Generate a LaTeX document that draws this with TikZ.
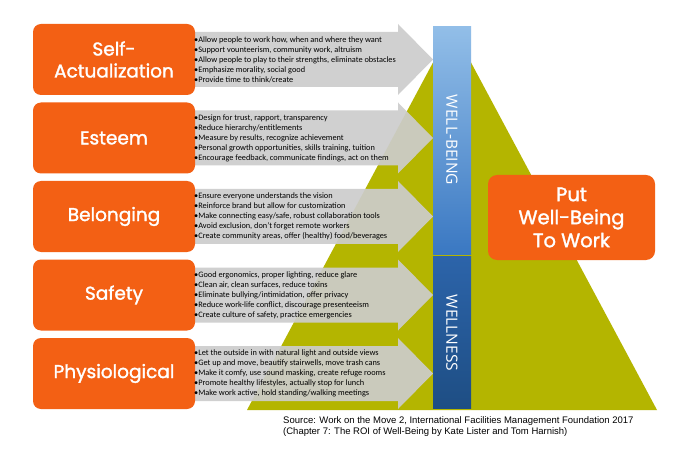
\documentclass[tikz,border=0pt]{standalone}
\usepackage{fontspec}
\setmainfont{Carlito}
\newfontfamily\popp{Poppins}[FakeBold=1.6]
\newfontfamily\opensans{Open Sans}
\newfontfamily\arialf{Liberation Sans}
\definecolor{orangeb}{RGB}{243,96,20}
\definecolor{oliveb}{RGB}{180,181,0}
\definecolor{grayarr}{RGB}{204,204,204}
\definecolor{blueA}{RGB}{146,190,232}
\definecolor{blueB}{RGB}{58,120,194}
\definecolor{blueC}{RGB}{44,100,170}
\definecolor{blueD}{RGB}{30,78,132}
\tikzset{
  levelbox/.style={fill=orangeb, rounded corners=8pt, minimum width=162, minimum height=71,
    text=white, align=center, font=\popp\fontsize{18.5}{22}\selectfont, inner sep=0pt},
  bullets/.style={anchor=west, align=left, font=\fontsize{8.3}{10}\selectfont, inner sep=0pt, text=black},
  grayarrow/.style={fill=grayarr, opacity=0.92},
  bartext/.style={rotate=-90, text=white, font=\opensans\fontsize{15.5}{15}\selectfont},
}
\begin{document}
\begin{tikzpicture}[x=1pt,y=-1pt]
\useasboundingbox[fill=white] (0,0) rectangle (690,454);
% pyramid
\fill[oliveb] (452,27) -- (657,410) -- (247,410) -- cycle;
% arrows
\foreach \T in {24,102.5,181,259.5,338}{
  \fill[grayarrow] (188,\T+8) -- (398,\T+8) -- (398,\T) -- (433,\T+35.5) -- (398,\T+71) -- (398,\T+63) -- (188,\T+63) -- cycle;
}
% boxes
\node[levelbox] (self) at (114,59.5) {Self-\\Actualization};
\node[levelbox] (esteem) at (114,138) {Esteem};
\node[levelbox] (belong) at (114,216.5) {Belonging};
\node[levelbox] (safety) at (114,295) {Safety};
\node[levelbox] (phys) at (114,373.5) {Physiological};
% bullet lists
\node[bullets] (t1) at (194,59.5) {•Allow people to work how, when and where they want\\•Support vounteerism, community work, altruism\\•Allow people to play to their strengths, eliminate obstacles\\•Emphasize morality, social good\\•Provide time to think/create};
\node[bullets] (t2) at (194,138) {•Design for trust, rapport, transparency\\•Reduce hierarchy/entitlements\\•Measure by results, recognize achievement\\•Personal growth opportunities, skills training, tuition\\•Encourage feedback, communicate findings, act on them};
\node[bullets] (t3) at (194,216.5) {•Ensure everyone understands the vision\\•Reinforce brand but allow for customization\\•Make connecting easy/safe, robust collaboration tools\\•Avoid exclusion, don't forget remote workers\\•Create community areas, offer (healthy) food/beverages};
\node[bullets] (t4) at (194,295) {•Good ergonomics, proper lighting, reduce glare\\•Clean air, clean surfaces, reduce toxins\\•Eliminate bullying/intimidation, offer privacy\\•Reduce work-life conflict, discourage presenteeism\\•Create culture of safety, practice emergencies};
\node[bullets] (t5) at (194,373.5) {•Let the outside in with natural light and outside views\\•Get up and move, beautify stairwells, move trash cans\\•Make it comfy, use sound masking, create refuge rooms\\•Promote healthy lifestyles, actually stop for lunch\\•Make work active, hold standing/walking meetings};
% bar
\shade[top color=blueA, bottom color=blueB] (433,27) rectangle (471,254);
\shade[top color=blueC, bottom color=blueD] (433,256) rectangle (471,408);
\node[bartext] (wb) at (452,140) {WELL-BEING};
\node[bartext] (wn) at (452,333) {WELLNESS};
% put well-being box
\node[fill=orangeb, rounded corners=9pt, minimum width=167, minimum height=85, text=white,
  align=center, font=\popp\fontsize{19.5}{23}\selectfont, inner sep=0pt] (put) at (571.5,217.5) {Put\\Well-Being\\To Work};
% source
\node[anchor=north west, align=left, inner sep=0pt, font=\arialf\fontsize{9.5}{11.5}\selectfont] (src) at (283,416) {Source: Work on the Move 2, International Facilities Management Foundation 2017\\(Chapter 7: The ROI of Well-Being by Kate Lister and Tom Harnish)};
\end{tikzpicture}
\end{document}
